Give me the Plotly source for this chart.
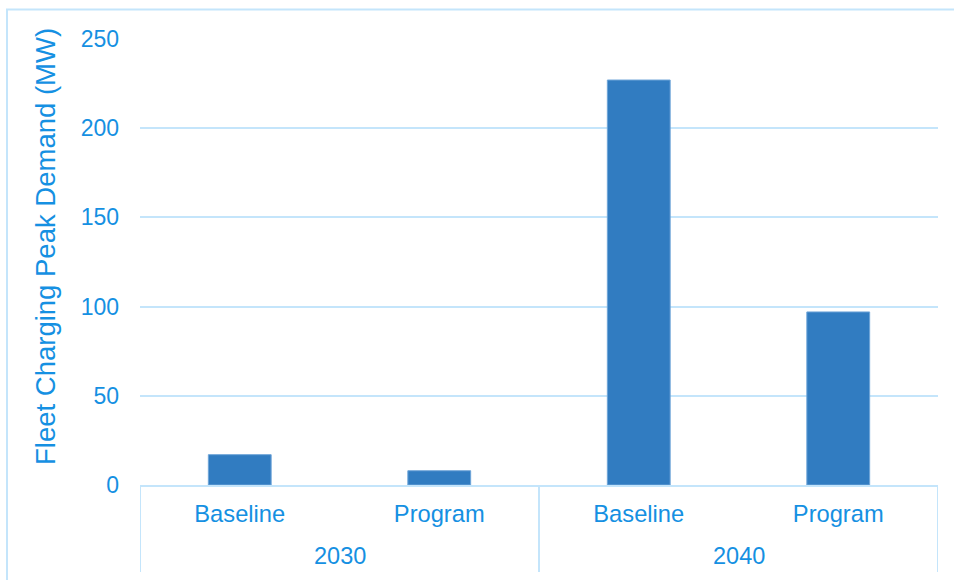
import plotly.graph_objects as go

groups = ["2030", "2030", "2040", "2040"]
scenarios = ["Baseline", "Program", "Baseline", "Program"]
peak_mw = [17, 8, 227, 97]
y_ticks = [0, 50, 100, 150, 200, 250]
y_title = "Fleet Charging Peak Demand (MW)"

W, H = 954, 580
ML, MR, MT, MB = 140, 16, 39, 95
PW, PH = W - ML - MR, H - MT - MB

TXT = "#1590E2"
BAR = "#317CC1"
GRID = "#C4E5FB"
FONT = "Liberation Sans, Arial, sans-serif"

def px_x(p):
    return (p - ML) / PW

def px_y(p):
    return (H - MB - p) / PH

xs = list(range(len(peak_mw)))

fig = go.Figure(go.Bar(
    x=xs, y=peak_mw, width=0.315,
    marker=dict(color=BAR, line=dict(color="#6FA5D8", width=1)),
    hoverinfo="skip",
))

shapes = []
bounds = [-0.5]
for i in range(1, len(groups)):
    if groups[i] != groups[i - 1]:
        bounds.append(i - 0.5)
bounds.append(len(groups) - 0.5)
for b in bounds:
    shapes.append(dict(type="line", xref="x", yref="paper", x0=b, x1=b,
                       y0=0, y1=px_y(572), line=dict(color=GRID, width=2)))
shapes.append(dict(type="path", xref="paper", yref="paper",
                   path=f"M {px_x(7)} {px_y(600)} L {px_x(7)} {px_y(9.5)} L {px_x(960)} {px_y(9.5)}",
                   line=dict(color=GRID, width=2)))

annotations = []
seen = []
for g in groups:
    if g not in seen:
        seen.append(g)
for g in seen:
    idx = [i for i, gg in enumerate(groups) if gg == g]
    annotations.append(dict(x=sum(idx) / len(idx), xref="x", y=px_y(556), yref="paper",
                            text=g, showarrow=False, font=dict(size=23.5, color=TXT, family=FONT),
                            xanchor="center", yanchor="middle"))
annotations.append(dict(x=px_x(45), xref="paper", y=px_y(247), yref="paper", text=y_title,
                        textangle=-90, showarrow=False, font=dict(size=27.5, color=TXT, family=FONT),
                        xanchor="center", yanchor="middle"))

fig.update_layout(
    width=W, height=H,
    margin=dict(l=ML, r=MR, t=MT, b=MB, autoexpand=False),
    paper_bgcolor="white", plot_bgcolor="white",
    showlegend=False,
    font=dict(family=FONT, size=23, color=TXT),
    shapes=shapes, annotations=annotations,
    xaxis=dict(range=[-0.5, len(xs) - 0.5], tickvals=xs, ticktext=scenarios,
               showgrid=False, zeroline=False, showline=True, linecolor=GRID, linewidth=2,
               ticks="", ticklabelstandoff=7, tickfont=dict(size=23.7, color=TXT)),
    yaxis=dict(range=[0, 250], tickvals=y_ticks, showgrid=True, gridcolor=GRID, gridwidth=2,
               zeroline=False, showline=False, ticks="", ticklabelstandoff=20,
               tickfont=dict(size=23, color=TXT)),
)

fig.write_html("out.html")
